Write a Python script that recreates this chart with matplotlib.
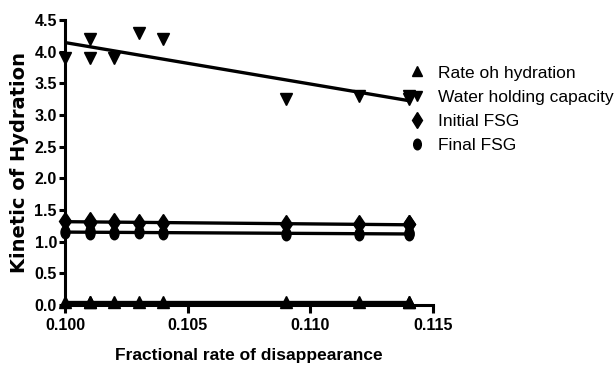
import numpy as np
import matplotlib
matplotlib.use('Agg')
import matplotlib.pyplot as plt
from matplotlib.path import Path
from matplotlib.transforms import Affine2D

# values
frac_rate = [0.100, 0.101, 0.101, 0.102, 0.103, 0.104, 0.109, 0.112, 0.114, 0.114]
rate_hydration = [0.05, 0.05, 0.05, 0.05, 0.05, 0.05, 0.05, 0.05, 0.05, 0.05]
water_holding = [3.9, 4.2, 3.9, 3.9, 4.3, 4.2, 3.25, 3.3, 3.3, 3.25]
initial_fsg = [1.32, 1.32, 1.30, 1.31, 1.30, 1.30, 1.27, 1.27, 1.27, 1.27]
final_fsg = [1.15, 1.16, 1.14, 1.14, 1.15, 1.14, 1.12, 1.12, 1.13, 1.12]

# tall ellipse for the "Final FSG" points
ellipse = Path.unit_circle().transformed(Affine2D().scale(0.72, 1.0))

series = [
    ('Rate oh hydration', rate_hydration, '^', 8),
    ('Water holding capacity', water_holding, 'v', 8),
    ('Initial FSG', initial_fsg, 'd', 9.5),
    ('Final FSG', final_fsg, ellipse, 9),
]

plt.rcParams['font.family'] = ['Liberation Sans', 'DejaVu Sans']

fig = plt.figure(figsize=(6.16, 3.70), dpi=100)
ax = fig.add_axes([0.106, 0.176, 0.597, 0.770])

x = np.array(frac_rate)
handles = []
for label, vals, marker, size in series:
    h, = ax.plot(x, vals, linestyle='none', marker=marker, markersize=size,
                 color='black', clip_on=False, label=label, zorder=3)
    handles.append(h)
    # linear regression line through each series
    slope, icpt = np.polyfit(x, vals, 1)
    xs = np.array([x.min(), x.max()])
    ax.plot(xs, slope * xs + icpt, color='black', lw=2.4, clip_on=False,
            solid_capstyle='butt', zorder=2)

ax.set_xlim(0.100, 0.115)
ax.set_ylim(0.0, 4.5)
ax.set_xticks([0.100, 0.105, 0.110, 0.115])
ax.set_xticklabels(['0.100', '0.105', '0.110', '0.115'])
ax.set_yticks(np.arange(0, 4.51, 0.5))
ax.set_yticklabels([f'{v:.1f}' for v in np.arange(0, 4.51, 0.5)])

for side in ['top', 'right']:
    ax.spines[side].set_visible(False)
for side in ['left', 'bottom']:
    ax.spines[side].set_linewidth(2.2)
ax.tick_params(axis='x', direction='out', length=5.5, width=2.2, pad=4)
ax.tick_params(axis='y', direction='out', length=4, width=2.2, pad=2)
for lab in ax.get_xticklabels() + ax.get_yticklabels():
    lab.set_fontweight('bold')
    lab.set_fontsize(11.5)

ax.set_xlabel('Fractional rate of disappearance', fontsize=12.5,
              fontweight='bold', labelpad=11)
ax.set_ylabel('Kinetic of Hydration', fontsize=14, fontweight='bold',
              family=['DejaVu Sans'], labelpad=4)

fig.legend(handles=handles, loc='upper left', bbox_to_anchor=(0.655, 0.842),
           frameon=False, fontsize=12.5, handlelength=0.8, handletextpad=0.8,
           labelspacing=0.52, borderaxespad=0, markerscale=0.85)

fig.savefig('out.png', dpi=100)
